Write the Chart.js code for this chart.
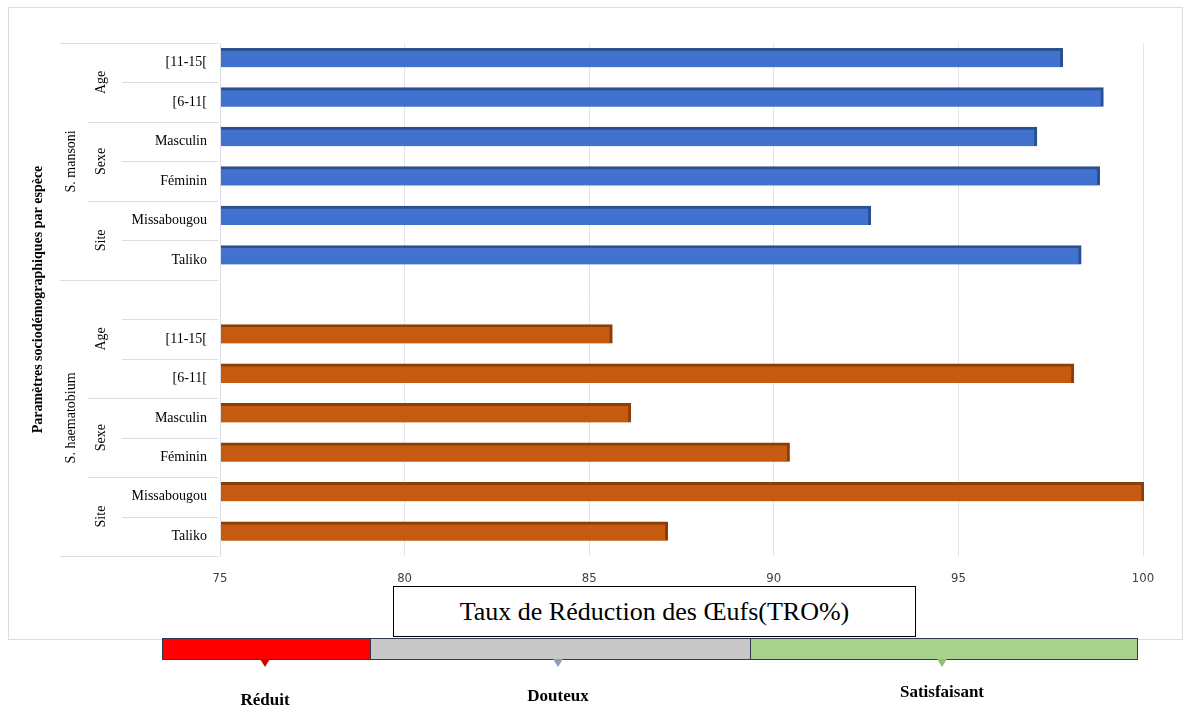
<!DOCTYPE html>
<html>
<head>
<meta charset="utf-8">
<script src="https://cdn.jsdelivr.net/npm/chart.js@4/dist/chart.umd.min.js"></script>
<style>
    body { margin: 0; background: #fff; }
    #wrap { position: relative; width: 1186px; height: 712px; }
    #frame { position: absolute; left: 8px; top: 7px; width: 1175px; height: 633px; border: 1px solid #dcdce4; box-sizing: border-box; }
    #titleBox { position: absolute; left: 393px; top: 586px; width: 523px; height: 51px; border: 1px solid #000; background: #fff;
        box-sizing: border-box; font: 26px "Liberation Serif", serif; text-align: center; line-height: 49px; }
    .band { position: absolute; top: 638px; height: 22px; border: 1px solid #2f3b4c; box-sizing: border-box; }
    .arrow { position: absolute; top: 659px; width: 0; height: 0; border-left: 5px solid transparent; border-right: 5px solid transparent; }
    .bandLabel { position: absolute; font: bold 17px "Liberation Serif", serif; transform: translateX(-50%); white-space: nowrap; }
</style>
</head>
<body>
<div id="wrap">
    <div id="frame"></div>
    <canvas id="chart" width="1186" height="712" style="position:absolute;left:0;top:0"></canvas>
    <div id="titleBox">Taux de Réduction des Œufs(TRO%)</div>
    <div id="legend"></div>
</div>
<script>
// categories, top to bottom (blank row between the two species)
const categories = ["[11-15[", "[6-11[", "Masculin", "Féminin", "Missabougou", "Taliko", "",
                    "[11-15[", "[6-11[", "Masculin", "Féminin", "Missabougou", "Taliko"];
const mansoniValues = [97.8, 98.9, 97.1, 98.8, 92.6, 98.3, null, null, null, null, null, null, null];
const haematobiumValues = [null, null, null, null, null, null, null, 85.6, 98.1, 86.1, 90.4, 100, 87.1];
const xTicks = [75, 80, 85, 90, 95, 100];

// multi-level axis: [label, first row, last row]
const groupLabels = [["Age", 0, 1], ["Sexe", 2, 3], ["Site", 4, 5], ["Age", 6, 8], ["Sexe", 9, 10], ["Site", 11, 12]];
const speciesLabels = [["S. mansoni", 0, 5], ["S. haematobium", 6, 12]];
const axisTitle = "Paramètres sociodémographiques par espèce";

const bandNames = ["Réduit", "Douteux", "Satisfaisant"];
const bandColors = ["#ff0000", "#c8c8c8", "#a9d18e"];

// bottom interpretation bar
const bandGeom = [[162, 370, 265, 701], [370, 750, 558, 697], [750, 1137, 942, 693]];
const legend = document.getElementById("legend");
bandNames.forEach((name, i) => {
    const g = bandGeom[i];
    legend.innerHTML += `<div class="band" style="left:${g[0]}px;width:${g[1] - g[0] + 1}px;background:${bandColors[i]}"></div>` +
        `<div class="arrow" style="left:${g[2] - 5}px;border-top:8px solid ${i == 0 ? "#d00000" : (i == 1 ? "#8ea0b8" : "#8fbf6f")}"></div>` +
        `<div class="bandLabel" style="left:${g[2]}px;top:${g[3] - 11}px">${name}</div>`;
});

const multiLevelAxis = {
    id: "multiLevelAxis",
    beforeDatasetsDraw(chart) {
        // fake 3D offset of the bars
        chart.ctx.save();
        chart.ctx.translate(1, -5);
    },
    afterDatasetsDraw(chart) {
        chart.ctx.restore();
    },
    afterDraw(chart) {
        const ctx = chart.ctx;
        const y = chart.scales.y;
        const right = chart.chartArea.left - 2;
        const half = (y.getPixelForValue(1) - y.getPixelForValue(0)) / 2;
        const top = i => y.getPixelForValue(i) - half;
        const bottom = i => y.getPixelForValue(i) + half;

        ctx.save();
        ctx.strokeStyle = "#dcdce4";
        ctx.lineWidth = 1;
        for (let i = 0; i <= categories.length; i++) {
            const yy = Math.round(i < categories.length ? top(i) : bottom(i - 1)) + 0.5;
            let x0 = 122;
            if (groupLabels.some(g => g[1] == i)) x0 = 88;
            if (speciesLabels.some(s => s[1] == i) || i == categories.length) x0 = 60;
            ctx.beginPath();
            ctx.moveTo(x0, yy);
            ctx.lineTo(right, yy);
            ctx.stroke();
        }

        const vText = (text, x, yy, font) => {
            ctx.save();
            ctx.translate(x, yy);
            ctx.rotate(-Math.PI / 2);
            ctx.font = font;
            ctx.fillStyle = "#000";
            ctx.textAlign = "center";
            ctx.textBaseline = "middle";
            ctx.fillText(text, 0, 0);
            ctx.restore();
        };
        groupLabels.forEach(g => vText(g[0], 101, (top(g[1]) + bottom(g[2])) / 2, "14px 'Liberation Serif', serif"));
        speciesLabels.forEach(s => vText(s[0], 71, (top(s[1]) + bottom(s[2])) / 2, "14px 'Liberation Serif', serif"));
        vText(axisTitle, 38, (top(0) + bottom(categories.length - 1)) / 2, "bold 14px 'Liberation Serif', serif");
        ctx.restore();
    }
};

new Chart(document.getElementById("chart"), {
    type: "bar",
    data: {
        labels: categories,
        datasets: [{
            label: "S. mansoni",
            data: mansoniValues,
            backgroundColor: "#4172cf",
            borderColor: "#2b4f8f",
            borderWidth: { top: 3, right: 3, bottom: 0, left: 0 },
            barThickness: 19,
            grouped: false
        }, {
            label: "S. haematobium",
            data: haematobiumValues,
            backgroundColor: "#c55a11",
            borderColor: "#8c3d0a",
            borderWidth: { top: 3, right: 3, bottom: 0, left: 0 },
            barThickness: 19,
            grouped: false
        }]
    },
    options: {
        indexAxis: "y",
        responsive: false,
        animation: false,
        layout: { padding: { left: 0, top: 43, right: 43, bottom: 116 } },
        plugins: { legend: { display: false }, tooltip: { enabled: false } },
        scales: {
            x: {
                min: xTicks[0],
                max: xTicks[xTicks.length - 1],
                afterBuildTicks: scale => { scale.ticks = xTicks.map(v => ({ value: v })); },
                afterFit: scale => { scale.height = 40; },
                grid: { color: "#e3e3ea", drawTicks: false },
                border: { display: false },
                ticks: {
                    padding: 15,
                    color: "#404040",
                    font: { family: "'Liberation Sans Narrow', 'DejaVu Sans Condensed', sans-serif", size: 13 }
                }
            },
            y: {
                afterFit: scale => { scale.width = 220; },
                grid: { display: false },
                border: { color: "#dcdce4" },
                ticks: {
                    padding: 5,
                    color: "#000",
                    autoSkip: false,
                    font: { family: "'Liberation Serif', serif", size: 14 }
                }
            }
        }
    },
    plugins: [multiLevelAxis]
});
</script>
</body>
</html>
